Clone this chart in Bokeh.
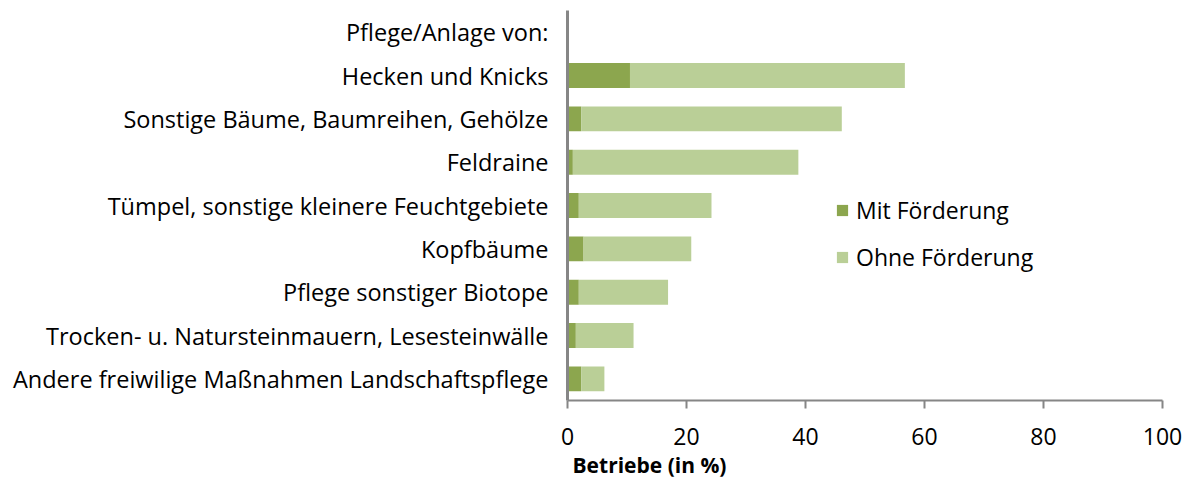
from bokeh.plotting import figure
from bokeh.models import FactorRange, Range1d, Legend, LegendItem, Title, FixedTicker
from bokeh.embed import file_html
from bokeh.resources import INLINE

header = "Pflege/Anlage von:"
categories = [
    "Hecken und Knicks",
    "Sonstige Bäume, Baumreihen, Gehölze",
    "Feldraine",
    "Tümpel, sonstige kleinere Feuchtgebiete",
    "Kopfbäume",
    "Pflege sonstiger Biotope",
    "Trocken- u. Natursteinmauern, Lesesteinwälle",
    "Andere freiwilige Maßnahmen Landschaftspflege",
]
mit = [10.5, 2.3, 0.9, 1.9, 2.7, 1.9, 1.4, 2.3]
ohne = [46.2, 43.8, 37.9, 22.3, 18.1, 15.0, 9.7, 3.9]
series = ["Mit Förderung", "Ohne Förderung"]
colors = ["#8CA64E", "#BACF97"]
x_ticks = [0, 20, 40, 60, 80, 100]
x_title = "Betriebe (in %)"

FONT = "Open Sans"
FS = "23px"
factors = list(reversed([header] + categories))

p = figure(
    y_range=FactorRange(factors=factors, range_padding=0),
    x_range=Range1d(0, 100),
    frame_width=595, frame_height=390,
    min_border_left=567, min_border_right=23,
    min_border_top=10, min_border_bottom=71,
    output_backend="svg", toolbar_location=None,
)
p.outline_line_color = None
p.xgrid.grid_line_color = None
p.ygrid.grid_line_color = None

source = dict(cat=categories, mit=mit, ohne=ohne)
rs = p.hbar_stack(["mit", "ohne"], y="cat", height=0.575, color=colors,
                  line_color=None, source=source)

legend = Legend(items=[LegendItem(label=s, renderers=[r]) for s, r in zip(series, rs)],
                location=(268, 127))
legend.label_text_font = FONT
legend.label_text_font_size = FS
legend.label_text_color = "#000000"
legend.glyph_width = 14
legend.glyph_height = 14
legend.spacing = 15
legend.padding = 0
legend.margin = 0
legend.label_standoff = 7
legend.border_line_color = None
legend.background_fill_alpha = 0
p.add_layout(legend, "center")

ax_col = "#868686"
xa = p.xaxis[0]
xa.ticker = FixedTicker(ticks=x_ticks)
xa.axis_line_color = ax_col
xa.axis_line_width = 2
xa.major_tick_line_color = ax_col
xa.major_tick_line_width = 2
xa.major_tick_out = 8
xa.major_tick_in = 0
xa.minor_tick_line_color = None
xa.major_label_text_font = FONT
xa.major_label_text_font_size = FS
xa.major_label_text_color = "#000000"
xa.major_label_standoff = 19

ya = p.yaxis[0]
ya.axis_line_color = ax_col
ya.axis_line_width = 3
ya.major_tick_line_color = None
ya.minor_tick_line_color = None
ya.major_label_text_font = FONT
ya.major_label_text_font_size = "23.5px"
ya.major_label_text_color = "#000000"
ya.major_label_standoff = 13

t = Title(text=x_title, align="left", offset=5, text_font=FONT,
          text_font_size="21px", text_font_style="bold", text_color="#000000",
          standoff=2)
p.add_layout(t, "below")

open("out.html", "w").write(file_html(p, INLINE))
